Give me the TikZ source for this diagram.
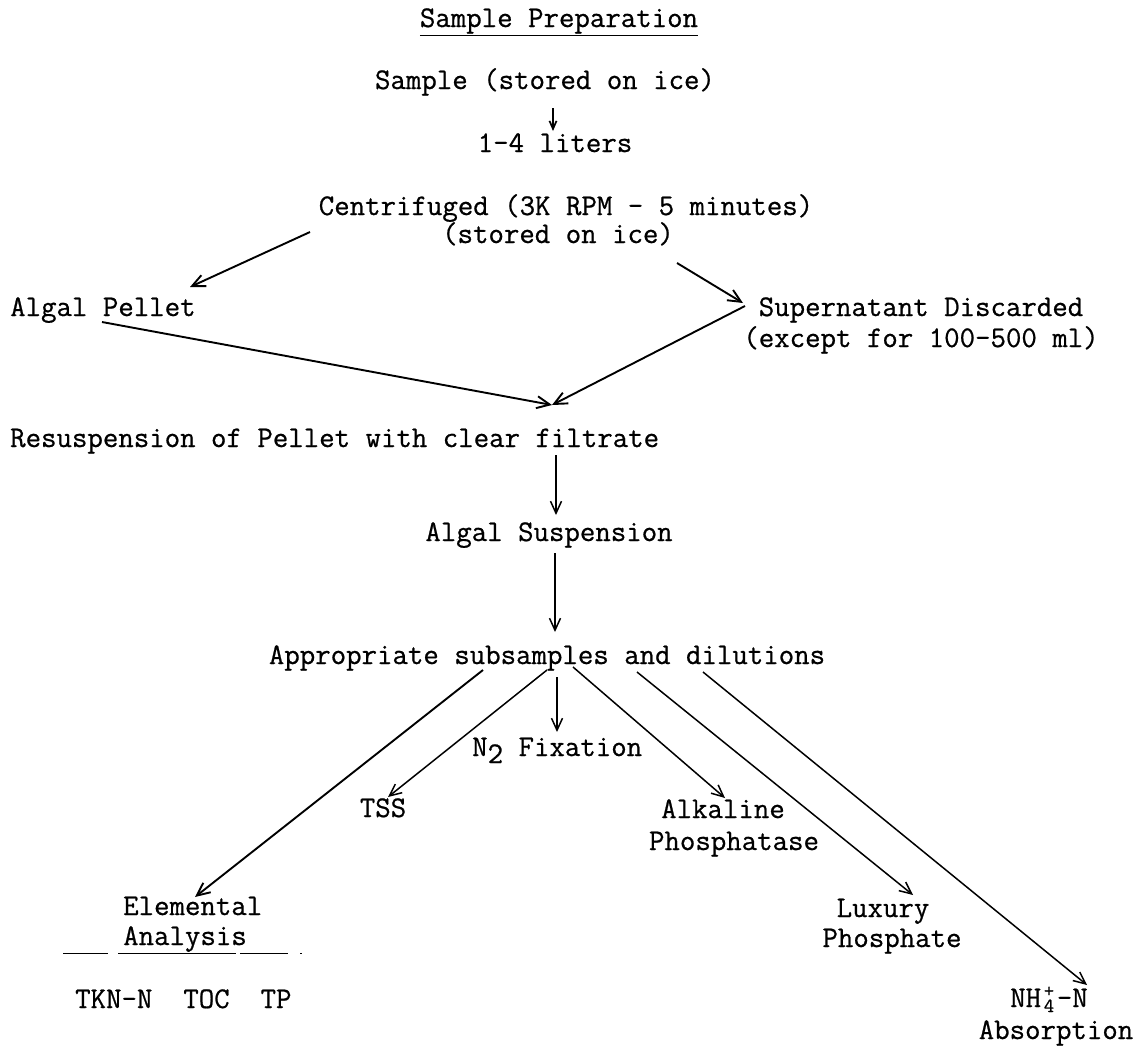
\documentclass[tikz,border=0pt]{standalone}
\usepackage{fontspec}
\newfontfamily\typewriter{Latin Modern Mono}[FakeBold=0.7]
\usetikzlibrary{arrows.meta}
\begin{document}
\begin{tikzpicture}[x=1pt,y=-1pt,
  txt/.style={font=\fontsize{30}{31}\selectfont\typewriter, inner sep=0pt, anchor=base},
  arr/.style={-{Straight Barb[length=13pt,width=12pt]}, line width=1.9pt},
  arrthin/.style={-{Straight Barb[length=12pt,width=11pt]}, line width=1.5pt},
]
\useasboundingbox (0,0) rectangle (1140,1045);

% text nodes
\node[txt] (title) at (559,27) {\underline{Sample Preparation}};
\node[txt] (sample) at (545,89) {Sample (stored on ice)};
\node[txt] (liters) at (555,152) {1-4 liters};
\node[txt] (cent) at (566,215) {Centrifuged (3K RPM - 5 minutes)};
\node[txt] (ice) at (558,243) {(stored on ice)};
\node[txt, anchor=base west] (pellet) at (10,316) {Algal Pellet};
\node[txt] (super) at (921,316) {Supernatant Discarded};
\node[txt] (except) at (921,347) {(except for 100-500 ml)};
\node[txt, anchor=base west] (resus) at (10,447) {Resuspension of Pellet with clear filtrate};
\node[txt] (algsus) at (549,541) {Algal Suspension};
\node[txt] (approp) at (547,664) {Appropriate subsamples and dilutions};
\node[txt, anchor=base west] (n2) at (472,756) {N\raisebox{-7pt}{2} Fixation};
\node[txt] (tss) at (383,817) {TSS};
\node[txt] (alk) at (723,818) {Alkaline};
\node[txt] (phos) at (734,850) {Phosphatase};
\node[txt, anchor=base west] (elem) at (123,915) {Elemental};
\node[txt, anchor=base west] (anal) at (123,945) {Analysis};
\node[txt, anchor=base west] (tkn) at (75,1008) {TKN-N\ \ TOC\ \ TP};
\node[txt] (lux) at (883,917) {Luxury};
\node[txt] (phosph) at (892,947) {Phosphate};
\node[txt] (nh4) at (1049,1007) {NH\makebox[15.75pt][c]{\fontsize{20}{20}\selectfont\raisebox{-5pt}{4}\llap{\raisebox{10pt}{+}}}-N};
\node[txt] (absorp) at (1056,1039) {Absorption};

% connector end points
\coordinate (a1s) at (553,108);  \coordinate (a1e) at (553,131);
\coordinate (l1s) at (310,232);  \coordinate (l1e) at (190,287);
\coordinate (r1s) at (677,263);  \coordinate (r1e) at (743,303);
\coordinate (p1s) at (102,322);  \coordinate (merge) at (552,405);
\coordinate (s1s) at (745,306);
\coordinate (d1s) at (556,455);  \coordinate (d1e) at (556,515);
\coordinate (d2s) at (555,553);  \coordinate (d2e) at (555,632);
\coordinate (e1s) at (483,670);  \coordinate (e1e) at (195,897);
\coordinate (t1s) at (547,670);  \coordinate (t1e) at (388,797);
\coordinate (n1s) at (557,677);  \coordinate (n1e) at (557,732);
\coordinate (k1s) at (573,667);  \coordinate (k1e) at (725,798);
\coordinate (x1s) at (637,672);  \coordinate (x1e) at (913,895);
\coordinate (h1s) at (703,672);  \coordinate (h1e) at (1087,985);

% connectors
\draw[-{Straight Barb[length=8pt,width=7pt]}, line width=1.7pt] (a1s) -- (a1e);
\draw[arr] (l1s) -- (l1e);
\draw[arr] (r1s) -- (r1e);
\draw[arr] (p1s) -- (merge);
\draw[arr] (s1s) -- (merge);
\draw[arrthin] (d1s) -- (d1e);
\draw[arrthin] (d2s) -- (d2e);
\draw[arr] (e1s) -- (e1e);
\draw[arrthin] (t1s) -- (t1e);
\draw[arrthin] (n1s) -- (n1e);
\draw[arrthin] (k1s) -- (k1e);
\draw[arrthin] (x1s) -- (x1e);
\draw[arrthin] (h1s) -- (h1e);

% broken underline below Elemental Analysis
\draw[line width=1pt, dash pattern=on 45pt off 10pt on 118pt off 4pt on 48pt off 12pt on 2pt] (63,953) -- (303,953);
\end{tikzpicture}
\end{document}
